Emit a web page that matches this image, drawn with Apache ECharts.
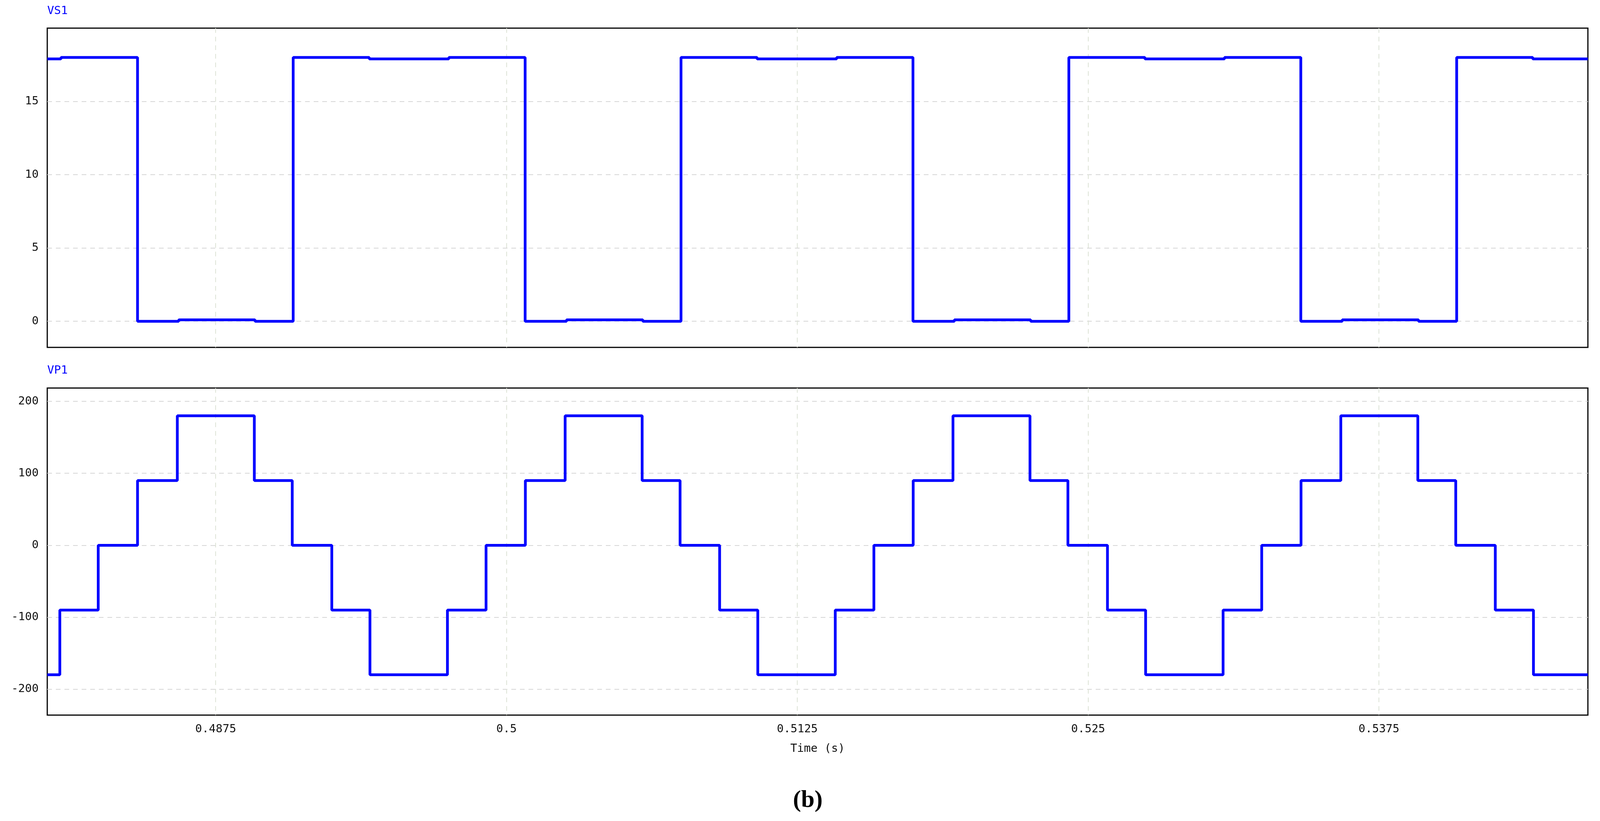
<!DOCTYPE html>
<html><head><meta charset="utf-8">
<script src="https://cdn.jsdelivr.net/npm/echarts@6/dist/echarts.min.js"></script>
<style>html,body{margin:0;background:#fff}#c{width:4135px;height:2101px}</style>
</head><body><div id="c"></div>
<script>
// ── données ──
const xMin = 0.48026, xMax = 0.54648;
const timeTicks = [0.4875, 0.5, 0.5125, 0.525, 0.5375];
const vsTicks = [0, 5, 10, 15];
const vpTicks = [-200, -100, 0, 100, 200];

// VS1 : [instant, niveau à partir de cet instant]
const vs1Times  = [0.48026, 0.48085, 0.48414, 0.48591, 0.48919, 0.49083, 0.49410, 0.49752,
                   0.50080, 0.50258, 0.50586, 0.50750, 0.51077, 0.51419,
                   0.51747, 0.51925, 0.52253, 0.52417, 0.52744, 0.53086,
                   0.53414, 0.53592, 0.53920, 0.54084, 0.54411, 0.54648];
const vs1Values = [17.9, 18.0, 0, 0.1, 0, 18.0, 17.9, 18.0,
                   0, 0.1, 0, 18.0, 17.9, 18.0,
                   0, 0.1, 0, 18.0, 17.9, 18.0,
                   0, 0.1, 0, 18.0, 17.9, 17.9];

// VP1 : escalier
const vp1Times  = [0.48026, 0.48080, 0.48245, 0.48414, 0.48585, 0.48916, 0.49079, 0.49249, 0.49413,
                   0.49746, 0.49912, 0.50081, 0.50252, 0.50583, 0.50746, 0.50916, 0.51080,
                   0.51413, 0.51579, 0.51748, 0.51919, 0.52250, 0.52413, 0.52583, 0.52747,
                   0.53080, 0.53246, 0.53415, 0.53586, 0.53917, 0.54080, 0.54250, 0.54414, 0.54648];
const vp1Values = [-180, -90, 0, 90, 180, 90, 0, -90, -180,
                   -90, 0, 90, 180, 90, 0, -90, -180,
                   -90, 0, 90, 180, 90, 0, -90, -180,
                   -90, 0, 90, 180, 90, 0, -90, -180, -180];

const zip = (a, b) => a.map((t, i) => [t, b[i]]);
const mono = 'DejaVu Sans Mono';
const chart = echarts.init(document.getElementById('c'), null, { renderer: 'canvas' });

const mkX = (idx, show) => ({
  type: 'value', gridIndex: idx, min: xMin, max: xMax,
  axisLine: { show: false },
  axisTick: { show: false, customValues: timeTicks },
  axisLabel: { show: show, customValues: timeTicks, fontFamily: mono, fontSize: 29, color: '#111', margin: 22 },
  splitLine: { show: true, lineStyle: { color: '#dde3d6', type: [12, 10], width: 2 } },
  name: show ? 'Time (s)' : '', nameLocation: 'middle', nameGap: 72,
  nameTextStyle: { fontFamily: mono, fontSize: 29, color: '#111' }
});
const mkY = (idx, min, max, ticks) => ({
  type: 'value', gridIndex: idx, min, max,
  axisLine: { show: false }, axisTick: { show: false, customValues: ticks },
  axisLabel: { customValues: ticks, fontFamily: mono, fontSize: 29, color: '#111', margin: 22 },
  splitLine: { show: true, lineStyle: { color: '#d6d6d6', type: [12, 10], width: 2 } }
});
const line = (idx, data) => ({
  type: 'line', xAxisIndex: idx, yAxisIndex: idx, step: 'end', showSymbol: false,
  animation: false, data, lineStyle: { color: '#0000ff', width: 7 }
});

chart.setOption({
  backgroundColor: '#fff',
  grid: [
    { left: 121, right: 70, top: 72, height: 817, show: true, borderColor: '#000', borderWidth: 3 },
    { left: 121, right: 70, top: 993, height: 837, show: true, borderColor: '#000', borderWidth: 3 }
  ],
  xAxis: [mkX(0, false), mkX(1, true)],
  yAxis: [mkY(0, -1.78, 20, vsTicks), mkY(1, -236, 218.5, vpTicks)],
  series: [line(0, zip(vs1Times, vs1Values)), line(1, zip(vp1Times, vp1Values))],
  graphic: [
    { type: 'text', left: 121, top: 14, style: { text: 'VS1', fill: '#0000ff', font: '29px ' + mono } },
    { type: 'text', left: 121, top: 934, style: { text: 'VP1', fill: '#0000ff', font: '29px ' + mono } },
    { type: 'text', left: 2030, top: 2018, style: { text: '(b)', fill: '#000', font: 'bold 62px "Liberation Serif"' } }
  ]
});
</script></body></html>
